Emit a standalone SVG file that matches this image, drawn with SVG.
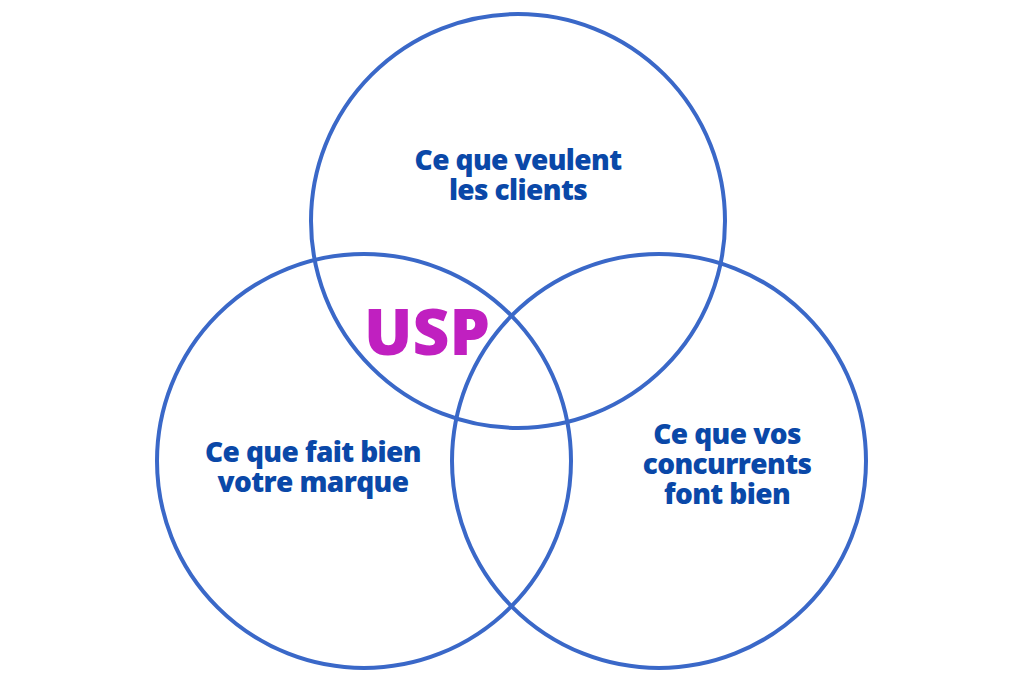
<svg xmlns="http://www.w3.org/2000/svg" width="1024" height="683" viewBox="0 0 1024 683">
<style>
.c{fill:none;stroke:#3a68c8;stroke-width:4}
.t{font-family:"Open Sans","Liberation Sans",sans-serif;font-weight:800;font-size:28px;fill:#0a48a8;text-anchor:middle;letter-spacing:-0.6px}
.u{font-family:"Open Sans","Liberation Sans",sans-serif;font-weight:800;font-size:64px;fill:#c020c0;text-anchor:middle}
</style>
<rect width="1024" height="683" fill="#fff"/>
<g id="top"><circle class="c" cx="518" cy="221" r="207"/><text class="t" x="518" y="170">Ce que veulent</text><text class="t" x="518" y="200">les clients</text></g>
<g id="left"><circle class="c" cx="364" cy="461" r="207"/><text class="t" x="313" y="462">Ce que fait bien</text><text class="t" x="313" y="492">votre marque</text></g>
<g id="right"><circle class="c" cx="659" cy="461" r="207"/><text class="t" x="727" y="444">Ce que vos</text><text class="t" x="727" y="474">concurrents</text><text class="t" x="727" y="504">font bien</text></g>
<g id="usp"><text class="u" x="427" y="355">USP</text></g>
<g id="connectors"/>
</svg>
